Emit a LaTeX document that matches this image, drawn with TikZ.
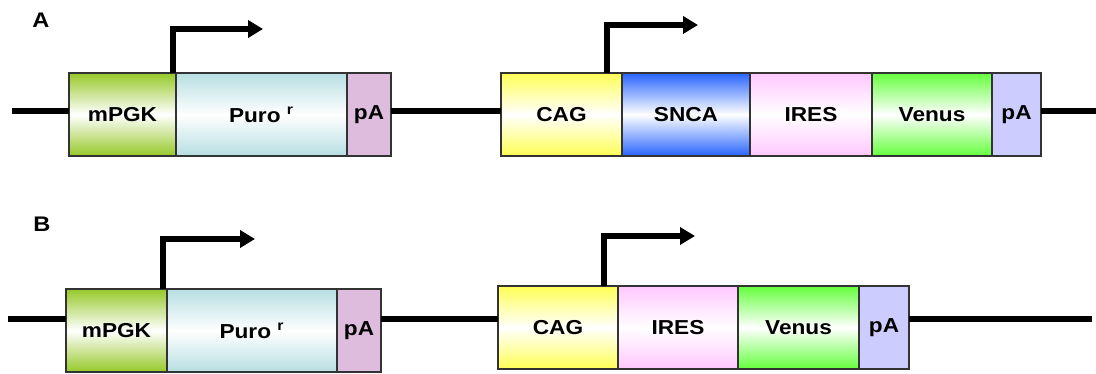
\documentclass[tikz,border=0pt]{standalone}
\usepackage{fontspec}
\newfontfamily\partfont[FakeStretch=1.12]{Liberation Sans}
\usetikzlibrary{positioning,arrows.meta}

\definecolor{pgkgreen}{RGB}{150,200,40}
\definecolor{purocyan}{RGB}{182,222,226}
\definecolor{pApink}{RGB}{222,188,222}
\definecolor{cagyellow}{RGB}{255,255,85}
\definecolor{sncablue}{RGB}{40,100,255}
\definecolor{irespink}{RGB}{255,200,255}
\definecolor{venusgreen}{RGB}{100,255,60}
\definecolor{pAlilac}{RGB}{204,204,255}

\tikzset{
  part/.style={draw=black!80, line width=0.6pt, minimum height=1.66cm,
    inner sep=0pt, outer sep=0pt, font=\partfont\bfseries\fontsize{11.5}{13}\selectfont},
  grad/.style={part, top color=#1, bottom color=#1, middle color=white},
  backbone/.style={line width=3pt},
  promoter/.style={line width=3pt, -{Triangle[length=0.3cm,width=0.34cm]}},
}

\begin{document}
\begin{tikzpicture}
  \useasboundingbox (0,0) rectangle (21.92,7.48);

  \node[font=\partfont\bfseries\fontsize{12}{14}\selectfont] at (0.82,7.08) (labA) {A};
  \node[font=\partfont\bfseries\fontsize{12}{14}\selectfont] at (0.84,3.00) (labB) {B};

  % construct A
  \node[grad=pgkgreen, minimum width=2.14cm, anchor=west] at (1.38,5.19) (mpgkA) {mPGK};
  \node[grad=purocyan, minimum width=3.42cm, right=0pt of mpgkA] (puroA) {Puro \textsuperscript{r}};
  \node[part, fill=pApink, minimum width=0.88cm, right=0pt of puroA] (pAa) {pA};

  \node[grad=cagyellow, minimum width=2.42cm, anchor=west] at (10.02,5.19) (cagA) {CAG};
  \node[grad=sncablue, minimum width=2.56cm, right=0pt of cagA] (snca) {SNCA};
  \node[grad=irespink, minimum width=2.44cm, right=0pt of snca] (iresA) {IRES};
  \node[grad=venusgreen, minimum width=2.40cm, right=0pt of iresA] (venusA) {Venus};
  \node[part, fill=pAlilac, minimum width=0.98cm, right=0pt of venusA] (pAb) {pA};

  \coordinate (startA) at (0.24,5.26);
  \coordinate (endA) at (21.92,5.26);
  \draw[backbone] (startA) -- (startA -| mpgkA.west);
  \draw[backbone] (pAa.east |- startA) -- (startA -| cagA.west);
  \draw[backbone] (pAb.east |- startA) -- (endA);

  \coordinate (tipA1) at (5.26,6.90);
  \coordinate (tipA2) at (13.96,6.98);
  \draw[promoter] ([xshift=-0.06cm]mpgkA.north east) |- (tipA1);
  \draw[promoter] ([xshift=-0.30cm]cagA.north east) |- (tipA2);

  % construct B
  \node[grad=pgkgreen, minimum width=2.02cm, anchor=west] at (1.32,0.87) (mpgkB) {mPGK};
  \node[grad=purocyan, minimum width=3.40cm, right=0pt of mpgkB] (puroB) {Puro \textsuperscript{r}};
  \node[part, fill=pApink, minimum width=0.88cm, right=0pt of puroB] (pAc) {pA};

  \node[grad=cagyellow, minimum width=2.40cm, anchor=west] at (9.96,0.93) (cagB) {CAG};
  \node[grad=irespink, minimum width=2.40cm, right=0pt of cagB] (iresB) {IRES};
  \node[grad=venusgreen, minimum width=2.42cm, right=0pt of iresB] (venusB) {Venus};
  \node[part, fill=pAlilac, minimum width=1.00cm, right=0pt of venusB] (pAd) {pA};

  \coordinate (startB) at (0.16,1.10);
  \coordinate (endB) at (21.84,1.10);
  \draw[backbone] (startB) -- (startB -| mpgkB.west);
  \draw[backbone] (pAc.east |- startB) -- (startB -| cagB.west);
  \draw[backbone] (pAd.east |- startB) -- (endB);

  \coordinate (tipB1) at (5.10,2.70);
  \coordinate (tipB2) at (13.90,2.76);
  \draw[promoter] ([xshift=-0.08cm]mpgkB.north east) |- (tipB1);
  \draw[promoter] ([xshift=-0.28cm]cagB.north east) |- (tipB2);
\end{tikzpicture}
\end{document}
